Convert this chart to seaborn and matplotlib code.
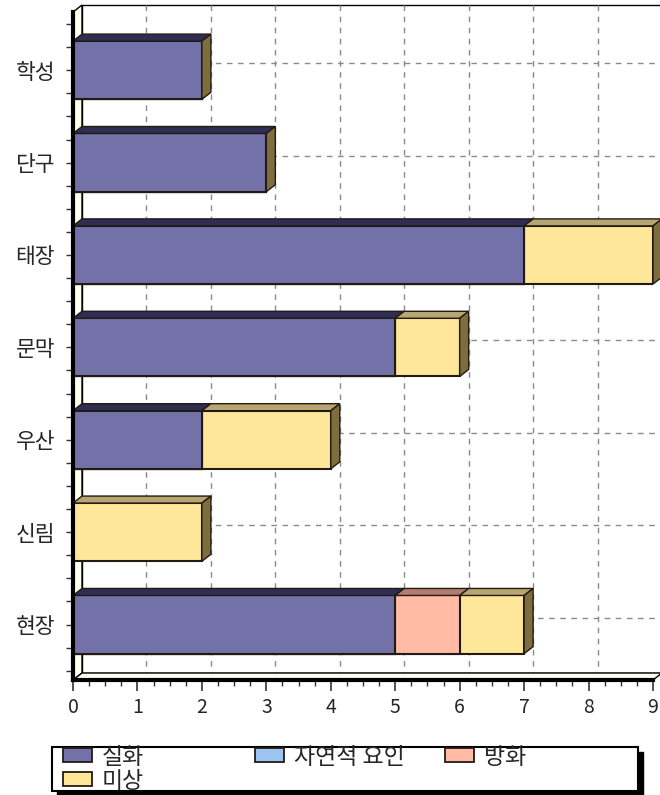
import matplotlib
matplotlib.use("Agg")
import matplotlib.pyplot as plt
import seaborn as sns
import numpy as np
from matplotlib.patches import Polygon, Rectangle, Patch
from matplotlib.ticker import MultipleLocator
from matplotlib.lines import Line2D

# ---- data ----
regions = ['학성', '단구', '태장', '문막', '우산', '신림', '현장']
series_names = ['실화', '자연적 요인', '방화', '미상']
silhwa = [2, 3, 7, 5, 2, 0, 5]
jayeon = [0, 0, 0, 0, 0, 0, 0]
banghwa = [0, 0, 0, 0, 0, 0, 1]
misang = [0, 0, 2, 1, 2, 2, 1]
x_ticks = [0, 1, 2, 3, 4, 5, 6, 7, 8, 9]

# ---- style ----
front_cols = {'실화': '#7272A8', '자연적 요인': '#9DC3F0', '방화': '#FFBBA6', '미상': '#FFE79A'}
top_cols = {'실화': '#2E2E54', '자연적 요인': '#5E7EA8', '방화': '#B47E6E', '미상': '#B7A672'}
side_col = '#7E6E3E'
edge_col = '#231A14'
wall_col = '#FFFFEE'

sns.set_style('white')
plt.rcParams['font.family'] = ['Noto Sans CJK KR', 'DejaVu Sans']

W, H = 660, 795
fig = plt.figure(figsize=(6.6, 7.95), dpi=100)
ax = fig.add_axes([73 / W, 1 - 680 / H, 580 / W, 668 / H])

XMAX = 9
YTOP, YBOT = -0.63, 6.6

series = [silhwa, jayeon, banghwa, misang]
cum = np.cumsum(np.array(series, dtype=float), axis=0)  # shape (4, n)

# front faces: overlay cumulative bars, largest first
bar_w = 0.63
for k in range(len(series_names) - 1, -1, -1):
    sns.barplot(x=list(cum[k]), y=regions, order=regions, orient='h',
                color=front_cols[series_names[k]], saturation=1, width=bar_w,
                edgecolor=edge_col, linewidth=1.5, ax=ax, zorder=4)

ax.set_xlim(0, XMAX)
ax.set_ylim(YBOT, YTOP)

# depth in data units
px_x = 580 / XMAX
px_y = 668 / (YBOT - YTOP)
dx = 9 / px_x
dy = 7 / px_y

# back plane
back = Rectangle((dx, YTOP - dy), XMAX, (YBOT - YTOP), facecolor='white',
                 edgecolor='black', lw=1.0, zorder=0.5, clip_on=False)
ax.add_patch(back)
# grid on back plane
for xv in x_ticks[1:]:
    ax.add_line(Line2D([xv + dx, xv + dx], [YTOP - dy, YBOT - dy], color='#8A8A8A',
                       lw=1.0, ls=(0, (4, 4)), zorder=1, clip_on=False))
for i in range(len(regions)):
    ax.add_line(Line2D([dx, XMAX + dx], [i - dy, i - dy], color='#8A8A8A',
                       lw=1.0, ls=(0, (4, 4)), zorder=1, clip_on=False))
# left wall
ax.add_patch(Polygon([(0, YTOP), (dx, YTOP - dy), (dx, YBOT - dy), (0, YBOT)], closed=True,
                     facecolor=wall_col, edgecolor='black', lw=1.0, zorder=1.5, clip_on=False))
# floor
ax.add_patch(Polygon([(0, YBOT), (XMAX, YBOT), (XMAX + dx, YBOT - dy), (dx, YBOT - dy)], closed=True,
                     facecolor=wall_col, edgecolor='black', lw=1.0, zorder=1.5, clip_on=False))

# 3D faces of bars (top faces and right side)
n = len(regions)
for i in range(n):
    yc = i
    y_top = yc - bar_w / 2
    y_bot = yc + bar_w / 2
    left = 0.0
    last_right = None
    for k, name in enumerate(series_names):
        v = series[k][i]
        if v <= 0:
            continue
        right = left + v
        ax.add_patch(Polygon([(left, y_top), (right, y_top), (right + dx, y_top - dy), (left + dx, y_top - dy)],
                             closed=True, facecolor=top_cols[name], edgecolor=edge_col, lw=1.0,
                             zorder=4.5, clip_on=False))
        left = right
        last_right = right
    if last_right is not None:
        ax.add_patch(Polygon([(last_right, y_top), (last_right + dx, y_top - dy),
                              (last_right + dx, y_bot - dy), (last_right, y_bot)],
                             closed=True, facecolor=side_col, edgecolor=edge_col, lw=1.0,
                             zorder=4.5, clip_on=False))

# axes / ticks
for s in ['top', 'right']:
    ax.spines[s].set_visible(False)
for s in ['left', 'bottom']:
    ax.spines[s].set_linewidth(3)
    ax.spines[s].set_color('black')
    ax.spines[s].set_zorder(6)
ax.set_xticks(x_ticks)
ax.set_xticklabels([str(t) for t in x_ticks])
ax.xaxis.set_minor_locator(MultipleLocator(0.25))
ax.yaxis.set_minor_locator(MultipleLocator(0.25))
ax.tick_params(axis='x', which='major', length=8, width=1.2, color='#333333',
               labelsize=14, pad=4, direction='out', bottom=True)
ax.tick_params(axis='x', which='minor', length=4, width=1.0, color='#333333', bottom=True)
ax.tick_params(axis='y', which='major', length=5, width=1.0, color='#333333',
               labelsize=15.5, pad=8, direction='out', left=True)
ax.tick_params(axis='y', which='minor', length=5, width=1.0, color='#333333', left=True)
ax.set_xlabel('')
ax.set_ylabel('')
ax.grid(False)

# legend frame with shadow
fig.patches.append(Rectangle((57 / W, 1 - 796 / H), 586 / W, 44 / H, transform=fig.transFigure,
                             facecolor='black', edgecolor='black', zorder=0))
fig.patches.append(Rectangle((52 / W, 1 - 791 / H), 586 / W, 44 / H, transform=fig.transFigure,
                             facecolor='white', edgecolor='black', lw=1.5, zorder=1))

legend_pos = {'실화': (63, 757), '미상': (63, 781), '자연적 요인': (255, 757), '방화': (445, 757)}
for name in series_names:
    px, py = legend_pos[name]
    h = Patch(facecolor=front_cols[name], edgecolor=edge_col, lw=1.3)
    fig.legend(handles=[h], labels=[name], loc='center left',
               bbox_to_anchor=(px / W, 1 - py / H), frameon=False, borderpad=0,
               borderaxespad=0, handlelength=1.25, handleheight=0.55, handletextpad=0.45,
               fontsize=16.5)

fig.savefig('out.png', dpi=100)
